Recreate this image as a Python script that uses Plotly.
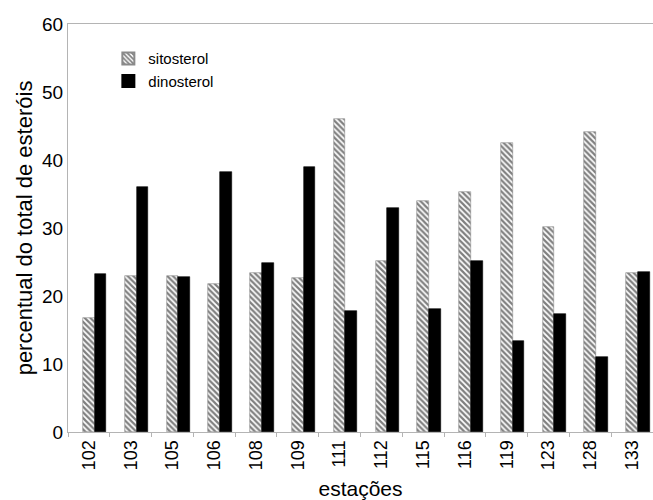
import plotly.graph_objects as go

# Stations sampled and the share of each sterol in the total sterols (%)
estacoes = ["102", "103", "105", "106", "108", "109", "111",
            "112", "115", "116", "119", "123", "128", "133"]
sitosterol = [16.8, 22.9, 22.9, 21.8, 23.4, 22.6, 46.1,
              25.2, 33.9, 35.3, 42.5, 30.1, 44.1, 23.4]
dinosterol = [23.3, 36.0, 22.8, 38.2, 24.8, 38.9, 17.8,
              33.0, 18.1, 25.2, 13.4, 17.3, 11.0, 23.6]

FONT = "Liberation Sans, Arial, sans-serif"
AXIS_GREY = "#b4b4b4"

fig = go.Figure()
fig.add_trace(go.Bar(
    name="sitosterol",
    x=estacoes, y=sitosterol,
    width=0.28, offset=-0.14,
    marker=dict(
        color="white",
        line=dict(color="#8a8a8a", width=0.6),
        pattern=dict(shape="\\", size=4, solidity=0.55,
                     fgcolor="black", bgcolor="white"),
    ),
))
fig.add_trace(go.Bar(
    name="dinosterol",
    x=estacoes, y=dinosterol,
    width=0.28, offset=0.14,
    marker=dict(color="black", line=dict(color="black", width=0.6)),
))

fig.update_layout(
    width=653, height=500,
    margin=dict(l=68, r=0, t=24, b=68),
    paper_bgcolor="white", plot_bgcolor="white",
    font=dict(family=FONT, color="black"),
    showlegend=True,
    legend=dict(
        x=0.069, y=0.955, xanchor="left", yanchor="top",
        bgcolor="rgba(0,0,0,0)", font=dict(size=15, family=FONT),
        itemsizing="constant", tracegroupgap=0,
    ),
    bargap=0.0,
)
fig.update_xaxes(
    type="category",
    showline=True, linecolor=AXIS_GREY, linewidth=1, mirror=True,
    ticks="outside", tickson="boundaries", ticklen=4, tickcolor=AXIS_GREY,
    tickangle=-90, tickfont=dict(size=18, family=FONT),
    showgrid=False,
    title=dict(text="estações", font=dict(size=21, family=FONT), standoff=12),
)
fig.update_yaxes(
    range=[0, 60], dtick=10,
    showline=True, linecolor=AXIS_GREY, linewidth=1,
    ticks="", showgrid=False, zeroline=False,
    tickfont=dict(size=19, family=FONT),
    title=dict(text="percentual do total de esteróis",
               font=dict(size=22, family=FONT), standoff=3),
)

fig.write_html("out.html")
